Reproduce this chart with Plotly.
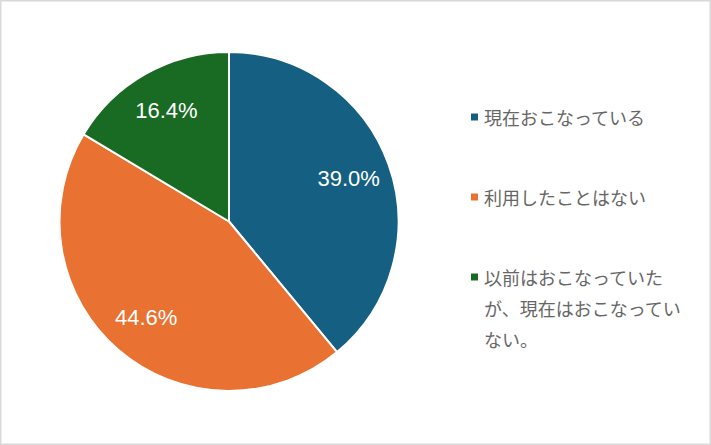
import plotly.graph_objects as go

# data
labels = ["現在おこなっている", "利用したことはない", "以前はおこなっていたが、現在はおこなっていない。"]
legendLines = [["現在おこなっている"], ["利用したことはない"],
               ["以前はおこなっていた", "が、現在はおこなってい", "ない。"]]
values = [39.0, 44.6, 16.4]
colors = ["#156082", "#E97132", "#196B24"]

W, H = 711, 445
pieDomain = dict(x=[59 / W, 399 / W], y=[54 / H, 1 - 52 / H])

fig = go.Figure()
# the visible pie
fig.add_trace(go.Pie(
    labels=labels, values=values, sort=False, direction="clockwise", rotation=0,
    marker=dict(colors=colors, line=dict(color="white", width=2)),
    textinfo="none", domain=pieDomain, showlegend=False, hoverinfo="label+percent"))
# transparent ring on top only to carry the labels further out, like the original
fig.add_trace(go.Pie(
    labels=labels, values=values, sort=False, direction="clockwise", rotation=0, hole=0.5,
    marker=dict(colors=["rgba(0,0,0,0)"] * len(values), line=dict(width=0)),
    texttemplate="%{value:.1f}%", textposition="inside", insidetextorientation="horizontal",
    textfont=dict(family="Liberation Sans, Arial", size=22, color="white"),
    domain=pieDomain, showlegend=False, hoverinfo="skip"))

# legend drawn by hand so the line spacing matches
shapes = [dict(type="rect", xref="paper", yref="paper", x0=0, x1=1, y0=0, y1=1,
               line=dict(color="#D9D9D9", width=3))]
annotations = []
itemTop, itemGap, lineGap = 117, 80, 31
for i, lines in enumerate(legendLines):
    yItem = itemTop + i * itemGap
    shapes.append(dict(type="rect", xref="paper", yref="paper",
                       x0=471 / W, x1=478 / W, y0=1 - (yItem + 3.5) / H, y1=1 - (yItem - 3.5) / H,
                       fillcolor=colors[i], line=dict(width=0)))
    for j, txt in enumerate(lines):
        annotations.append(dict(text=txt, xref="paper", yref="paper", x=482 / W,
                                y=1 - (yItem + j * lineGap) / H, xanchor="left", yanchor="middle",
                                showarrow=False,
                                font=dict(family="Noto Sans CJK JP", size=18, color="#666666")))

fig.update_layout(width=W, height=H, margin=dict(l=0, r=0, t=0, b=0),
                  paper_bgcolor="white", plot_bgcolor="white",
                  shapes=shapes, annotations=annotations)
fig.write_html("out.html", config={"displayModeBar": False},
               post_script="document.body.style.margin='0';")
